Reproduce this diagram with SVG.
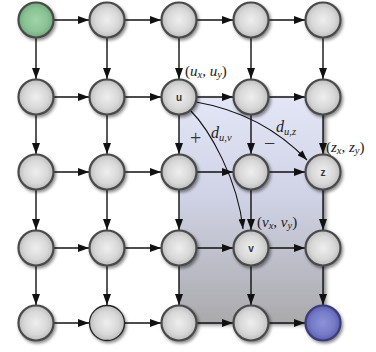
<svg xmlns="http://www.w3.org/2000/svg" width="376" height="352" viewBox="0 0 376 352">
<style>
.e{stroke:#111;stroke-width:1.4;fill:none;marker-end:url(#ah)}
.c{stroke:#111;stroke-width:1.1;fill:none;marker-end:url(#ah2)}
.n{fill:url(#gn);stroke:#4a4a4a;stroke-width:2.2;filter:url(#sh)}
.nl{font-family:"Liberation Sans",Arial,sans-serif;font-weight:bold;font-size:10px;fill:#333;text-anchor:middle}
.m{font-family:"Liberation Serif","Times New Roman",serif;font-size:15px;fill:#222}
.i{font-style:italic}
.s{font-size:10.5px;font-style:italic}
.d{font-size:16px;font-style:italic}
.op{font-family:"Liberation Serif","Times New Roman",serif;font-size:20px;fill:#333}
</style>
<defs>
<marker id="ah" markerUnits="userSpaceOnUse" markerWidth="11" markerHeight="8" refX="11" refY="4" orient="auto"><path d="M0,0 L11,4 L0,8 z" fill="#111"/></marker>
<marker id="ah2" markerUnits="userSpaceOnUse" markerWidth="10" markerHeight="7" refX="10" refY="3.5" orient="auto"><path d="M0,0 L10,3.5 L0,7 z" fill="#111"/></marker>
<radialGradient id="gn" cx="50%" cy="50%" r="55%"><stop offset="0" stop-color="#eeeeee"/><stop offset="0.6" stop-color="#d8d8d8"/><stop offset="1" stop-color="#b5b5b5"/></radialGradient>
<radialGradient id="gg" cx="50%" cy="50%" r="55%"><stop offset="0" stop-color="#9fd4a8"/><stop offset="0.6" stop-color="#8ac394"/><stop offset="1" stop-color="#6aa276"/></radialGradient>
<radialGradient id="gb" cx="50%" cy="50%" r="55%"><stop offset="0" stop-color="#8d92da"/><stop offset="0.6" stop-color="#767bc8"/><stop offset="1" stop-color="#5358a8"/></radialGradient>
<linearGradient id="gr" x1="0" y1="0" x2="0" y2="1"><stop offset="0" stop-color="#e3e6f6"/><stop offset="0.45" stop-color="#cfd2e5"/><stop offset="1" stop-color="#aaaaac"/></linearGradient>
<filter id="sh" x="-30%" y="-30%" width="170%" height="170%"><feDropShadow dx="1.5" dy="2" stdDeviation="1.8" flood-color="#000" flood-opacity="0.45"/></filter>
<filter id="rs" x="-10%" y="-10%" width="125%" height="125%"><feDropShadow dx="3" dy="2" stdDeviation="2" flood-color="#000" flood-opacity="0.5"/></filter>
</defs>
<rect id="region" x="179" y="97" width="144" height="226" fill="url(#gr)" filter="url(#rs)"/>
<g id="connectors">
<line class="e" x1="54" y1="20" x2="89" y2="20"/><line class="e" x1="125" y1="20" x2="161" y2="20"/><line class="e" x1="197" y1="20" x2="233" y2="20"/><line class="e" x1="269" y1="20" x2="305" y2="20"/>
<line class="e" x1="54" y1="97" x2="89" y2="97"/><line class="e" x1="125" y1="97" x2="161" y2="97"/><line class="e" x1="197" y1="97" x2="233" y2="97"/><line class="e" x1="269" y1="97" x2="305" y2="97"/>
<line class="e" x1="54" y1="172" x2="89" y2="172"/><line class="e" x1="125" y1="172" x2="161" y2="172"/><line class="e" x1="197" y1="172" x2="233" y2="172"/><line class="e" x1="269" y1="172" x2="305" y2="172"/>
<line class="e" x1="54" y1="248" x2="89" y2="248"/><line class="e" x1="125" y1="248" x2="161" y2="248"/><line class="e" x1="197" y1="248" x2="233" y2="248"/><line class="e" x1="269" y1="248" x2="305" y2="248"/>
<line class="e" x1="54" y1="323" x2="89" y2="323"/><line class="e" x1="125" y1="323" x2="161" y2="323"/><line class="e" x1="197" y1="323" x2="233" y2="323"/><line class="e" x1="269" y1="323" x2="305" y2="323"/>
<line class="e" x1="36" y1="38" x2="36" y2="79"/><line class="e" x1="36" y1="115" x2="36" y2="154"/><line class="e" x1="36" y1="190" x2="36" y2="230"/><line class="e" x1="36" y1="266" x2="36" y2="305"/>
<line class="e" x1="107" y1="38" x2="107" y2="79"/><line class="e" x1="107" y1="115" x2="107" y2="154"/><line class="e" x1="107" y1="190" x2="107" y2="230"/><line class="e" x1="107" y1="266" x2="107" y2="305"/>
<line class="e" x1="179" y1="38" x2="179" y2="79"/><line class="e" x1="179" y1="115" x2="179" y2="154"/><line class="e" x1="179" y1="190" x2="179" y2="230"/><line class="e" x1="179" y1="266" x2="179" y2="305"/>
<line class="e" x1="251" y1="38" x2="251" y2="79"/><line class="e" x1="251" y1="115" x2="251" y2="154"/><line class="e" x1="251" y1="190" x2="251" y2="230"/><line class="e" x1="251" y1="266" x2="251" y2="305"/>
<line class="e" x1="323" y1="38" x2="323" y2="79"/><line class="e" x1="323" y1="115" x2="323" y2="154"/><line class="e" x1="323" y1="190" x2="323" y2="230"/><line class="e" x1="323" y1="266" x2="323" y2="305"/>
<path class="c" d="M190,110 C210,130 238,180 243,229"/>
<path class="c" d="M196,102 C242,110 278,130 307,160"/>
</g>
<g id="n00"><circle class="n" cx="36" cy="20" r="17.5" style="fill:url(#gg)"/></g>
<g id="n01"><circle class="n" cx="107" cy="20" r="17.5"/></g>
<g id="n02"><circle class="n" cx="179" cy="20" r="17.5"/></g>
<g id="n03"><circle class="n" cx="251" cy="20" r="17.5"/></g>
<g id="n04"><circle class="n" cx="323" cy="20" r="17.5"/></g>
<g id="n10"><circle class="n" cx="36" cy="97" r="17.5"/></g>
<g id="n11"><circle class="n" cx="107" cy="97" r="17.5"/></g>
<g id="u"><circle class="n" cx="179" cy="97" r="17.5"/><text class="nl" x="179" y="101">u</text></g>
<g id="n13"><circle class="n" cx="251" cy="97" r="17.5"/></g>
<g id="n14"><circle class="n" cx="323" cy="97" r="17.5"/></g>
<g id="n20"><circle class="n" cx="36" cy="172" r="17.5"/></g>
<g id="n21"><circle class="n" cx="107" cy="172" r="17.5"/></g>
<g id="n22"><circle class="n" cx="179" cy="172" r="17.5"/></g>
<g id="n23"><circle class="n" cx="251" cy="172" r="17.5"/></g>
<g id="z"><circle class="n" cx="323" cy="172" r="17.5"/><text class="nl" x="323" y="176">z</text></g>
<g id="n30"><circle class="n" cx="36" cy="248" r="17.5"/></g>
<g id="n31"><circle class="n" cx="107" cy="248" r="17.5"/></g>
<g id="n32"><circle class="n" cx="179" cy="248" r="17.5"/></g>
<g id="v"><circle class="n" cx="251" cy="248" r="17.5"/><text class="nl" x="251" y="252">v</text></g>
<g id="n34"><circle class="n" cx="323" cy="248" r="17.5"/></g>
<g id="n40"><circle class="n" cx="36" cy="323" r="17.5"/></g>
<g id="n41"><circle class="n" cx="107" cy="323" r="17.5" style="stroke:#222;stroke-width:1.3"/></g>
<g id="n42"><circle class="n" cx="179" cy="323" r="17.5"/></g>
<g id="n43"><circle class="n" cx="251" cy="323" r="17.5"/></g>
<g id="n44"><circle class="n" cx="323" cy="323" r="17.5" style="fill:url(#gb);stroke:#3a3d78"/></g>
<g id="labels">
<text class="m" x="185" y="76">(<tspan class="i">u</tspan><tspan class="s" dy="2">x</tspan><tspan dy="-2">, </tspan><tspan class="i">u</tspan><tspan class="s" dy="2">y</tspan><tspan dy="-2">)</tspan></text>
<text class="m" x="326" y="152">(<tspan class="i">z</tspan><tspan class="s" dy="2">x</tspan><tspan dy="-2">, </tspan><tspan class="i">z</tspan><tspan class="s" dy="2">y</tspan><tspan dy="-2">)</tspan></text>
<text class="m" x="257" y="227">(<tspan class="i">v</tspan><tspan class="s" dy="2">x</tspan><tspan dy="-2">, </tspan><tspan class="i">v</tspan><tspan class="s" dy="2">y</tspan><tspan dy="-2">)</tspan></text>
<text class="m" x="211" y="138"><tspan class="d">d</tspan><tspan class="s" dy="3">u,v</tspan></text>
<text class="m" x="276" y="132"><tspan class="d">d</tspan><tspan class="s" dy="3">u,z</tspan></text>
<text class="op" x="190" y="145">+</text>
<text class="op" x="264" y="150">−</text>
</g>
</svg>
